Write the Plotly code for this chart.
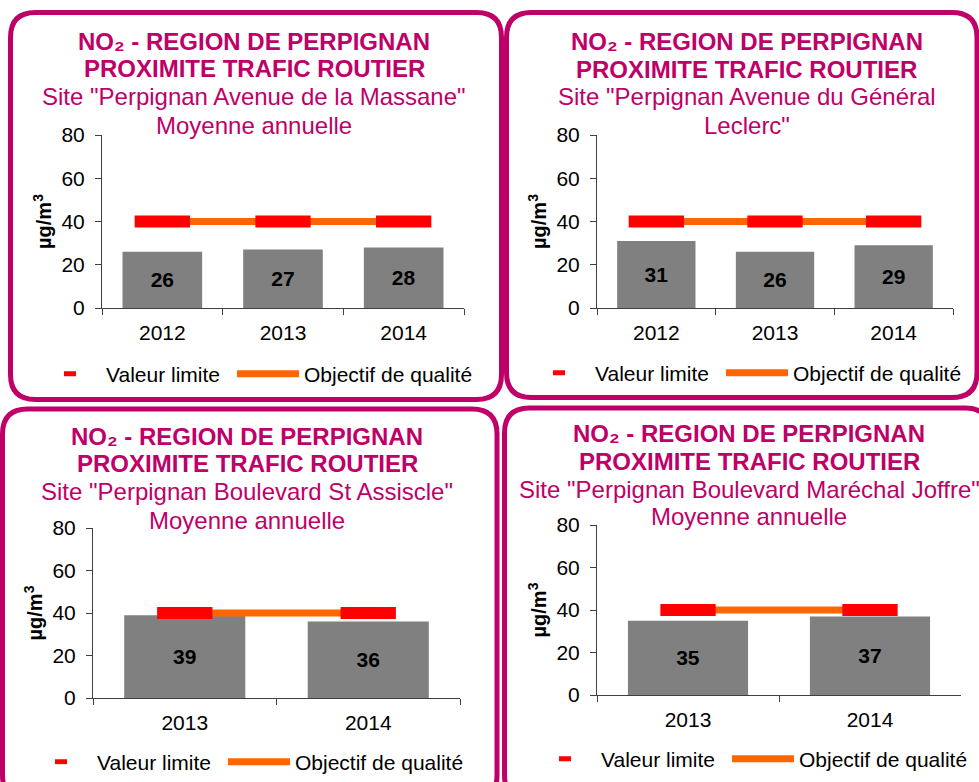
import plotly.graph_objects as go

W, H = 979, 782
FONT = "Liberation Sans, Arial, sans-serif"
MAGENTA = "#BE0068"
GRAY_BAR = "#808080"
RED = "#FF0000"
ORANGE = "#FF6600"

# ---------------- data ----------------
sites = [
    'Site "Perpignan Avenue de la Massane"',
    'Site "Perpignan Avenue du Général',
    'Site "Perpignan Boulevard St Assiscle"',
    'Site "Perpignan Boulevard Maréchal Joffre"',
]
subtitles = ['Moyenne annuelle', 'Leclerc"', 'Moyenne annuelle', 'Moyenne annuelle']

years_massane = ["2012", "2013", "2014"]
values_massane = [26, 27, 28]
years_leclerc = ["2012", "2013", "2014"]
values_leclerc = [31, 26, 29]
years_assiscle = ["2013", "2014"]
values_assiscle = [39, 36]
years_joffre = ["2013", "2014"]
values_joffre = [35, 37]

valeur_limite = 40
objectif_qualite = 40
y_ticks = [0, 20, 40, 60, 80]

title_line1 = "<b>NO₂ - REGION DE PERPIGNAN</b>"
title_line2 = "<b>PROXIMITE TRAFIC ROUTIER</b>"

panels_years = [years_massane, years_leclerc, years_assiscle, years_joffre]
panels_values = [values_massane, values_leclerc, values_assiscle, values_joffre]

# ---------------- layout geometry (pixels) ----------------
areas = [(102, 464, 135, 308), (597, 953, 135, 308), (93, 460, 528, 698), (597, 961, 525, 695)]
frames = [(10.5, 12.5, 501.5, 399.5), (506.5, 12.5, 977, 397.5), (2.5, 409, 497, 800), (504.5, 408, 990, 800)]
title_cx = [254, 746.5, 247, 749]
title_y = [[41.5, 68.5, 96.7, 125], [41.5, 70, 96.7, 125], [436.5, 463, 491.7, 520], [433.3, 461.7, 489, 516.7]]
legend_pos = [(106, 374), (595, 373), (97, 762), (601, 759)]
ITEMW = 62
TEXTGAP = ITEMW + 10
TXT = 21

def px(x):
    return x / W

def py(y):
    return 1 - y / H

fig = go.Figure()
layout = dict()
annotations = []
shapes = []

for i in range(4):
    n = "" if i == 0 else str(i + 1)
    xa, ya = "x" + n, "y" + n
    lg = "legend" + n
    yrs = panels_years[i]
    vals = panels_values[i]
    fig.add_trace(go.Bar(
        x=yrs, y=vals, xaxis=xa, yaxis=ya, marker=dict(color=GRAY_BAR, line=dict(width=0)),
        text=vals, textposition="inside", insidetextanchor="middle", constraintext="none",
        textangle=0, textfont=dict(family=FONT, size=TXT, color="black", weight="bold"),
        showlegend=False, hoverinfo="x+y",
    ))
    fig.add_trace(go.Scatter(
        x=yrs, y=[objectif_qualite] * len(yrs), xaxis=xa, yaxis=ya, mode="lines",
        line=dict(color=ORANGE, width=7), name="Objectif de qualité", legend=lg,
        showlegend=False,
    ))
    fig.add_trace(go.Scatter(
        x=yrs, y=[valeur_limite] * len(yrs), xaxis=xa, yaxis=ya, mode="markers",
        marker=dict(symbol="line-ew", size=39.5, color=RED, line=dict(width=12, color=RED)),
        name="Valeur limite", legend=lg, showlegend=False,
    ))
    # legend entries
    fig.add_trace(go.Scatter(
        x=[None], y=[None], xaxis=xa, yaxis=ya, mode="markers",
        marker=dict(symbol="line-ew", size=8.6, color=RED, line=dict(width=5, color=RED)),
        name="Valeur limite", legend=lg, showlegend=True, legendrank=1,
        legendwidth=198 - TEXTGAP - 5,
    ))
    fig.add_trace(go.Scatter(
        x=[None], y=[None], xaxis=xa, yaxis=ya, mode="lines",
        line=dict(color=ORANGE, width=7), name="Objectif de qualité", legend=lg,
        showlegend=True, legendrank=2,
    ))

    x0, x1, yt, yb = areas[i]
    layout["xaxis" + n] = dict(
        domain=[px(x0), px(x1)], anchor=ya, type="category", tickson="boundaries",
        ticks="outside", ticklen=6, tickcolor="#404040", showline=True, linecolor="#404040",
        linewidth=1, showgrid=False, zeroline=False, fixedrange=True, ticklabelstandoff=6,
        tickfont=dict(family=FONT, size=TXT, color="black"),
    )
    layout["yaxis" + n] = dict(
        domain=[py(yb), py(yt)], anchor=xa, range=[0, 80], tickvals=y_ticks,
        ticks="outside", ticklen=6, tickcolor="#404040", showline=True, linecolor="#404040",
        linewidth=1, showgrid=False, zeroline=False, fixedrange=True, ticklabelstandoff=6,
        tickfont=dict(family=FONT, size=TXT, color="black"),
        title=dict(text="<b>µg/m<sup>3</sup></b>", font=dict(family=FONT, size=20, color="black"), standoff=4),
    )
    lx, ly = legend_pos[i]
    layout[lg] = dict(
        orientation="h", x=px(lx - TEXTGAP), y=py(ly), xanchor="left", yanchor="middle",
        itemwidth=ITEMW, bgcolor="rgba(0,0,0,0)",
        borderwidth=0, font=dict(family=FONT, size=TXT, color="black"), traceorder="normal",
    )

    lines = [title_line1, title_line2, sites[i], subtitles[i]]
    for k, t in enumerate(lines):
        annotations.append(dict(
            text=t, x=px(title_cx[i]), y=py(title_y[i][k]), xref="paper", yref="paper",
            xanchor="center", yanchor="middle", showarrow=False,
            font=dict(family=FONT, size=24, color=MAGENTA),
        ))

    fx0, fy0, fx1, fy1 = frames[i]
    r = 25
    rx, ry = r / W, r / H
    X0, X1, Y0, Y1 = px(fx0), px(fx1), py(fy0), py(fy1)
    path = (f"M{X0 + rx},{Y0} L{X1 - rx},{Y0} Q{X1},{Y0} {X1},{Y0 - ry} "
            f"L{X1},{Y1 + ry} Q{X1},{Y1} {X1 - rx},{Y1} L{X0 + rx},{Y1} "
            f"Q{X0},{Y1} {X0},{Y1 + ry} L{X0},{Y0 - ry} Q{X0},{Y0} {X0 + rx},{Y0} Z")
    shapes.append(dict(type="path", path=path, xref="paper", yref="paper",
                       line=dict(color=MAGENTA, width=5), layer="above"))

fig.update_layout(
    width=W, height=H, margin=dict(l=0, r=0, t=0, b=0, autoexpand=False),
    paper_bgcolor="white", plot_bgcolor="white", bargap=0.34,
    annotations=annotations, shapes=shapes, **layout,
)

fig.write_html("out.html", config={"displayModeBar": False},
               post_script="document.body.style.margin='0px';")
